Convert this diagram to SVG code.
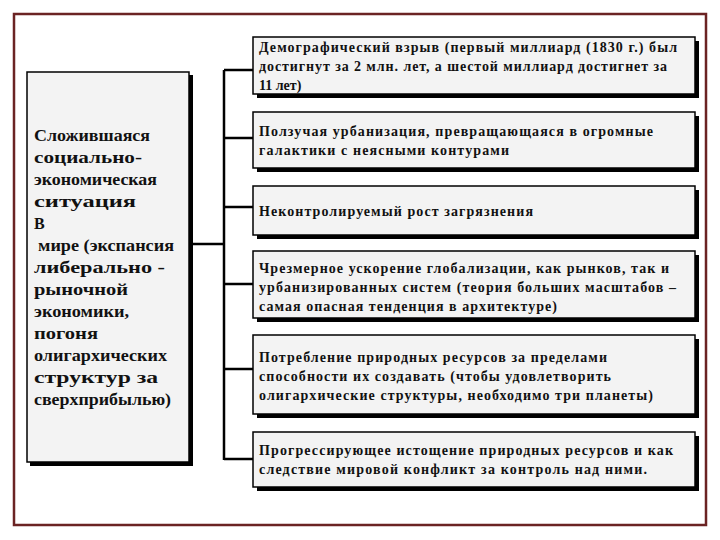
<svg xmlns="http://www.w3.org/2000/svg" width="720" height="540" viewBox="0 0 720 540">
<style>
.box{fill:#f3f3f3;stroke:#000;stroke-width:1.5}
.sh{fill:#000}
.t{font-family:"Liberation Serif","Times New Roman",serif;font-weight:bold;font-size:14px;fill:#111}
.l{font-size:16px}
.c{stroke:#000;stroke-width:2.5;fill:none}
</style>
<rect x="0" y="0" width="720" height="540" fill="#fff"/>
<rect x="14" y="14" width="692" height="511" fill="#fff" stroke="#6b2323" stroke-width="2.5"/>
<g id="connectors">
<path class="c" d="M224 70V460M224 70H253M224 138H253M224 207H253M224 284H253M224 369H253M224 459H253M190 244H224"/>
</g>
<g id="left">
<rect class="sh" x="30" y="75" width="163" height="391"/>
<rect class="box" x="27" y="72" width="162" height="390"/>
<text class="t l"><tspan x="34" y="141" textLength="116" lengthAdjust="spacingAndGlyphs">Сложившаяся</tspan><tspan x="34" y="163" textLength="108" lengthAdjust="spacingAndGlyphs">социально-</tspan><tspan x="34" y="185" textLength="123" lengthAdjust="spacingAndGlyphs">экономическая</tspan><tspan x="34" y="207" textLength="102" lengthAdjust="spacingAndGlyphs">ситуация</tspan><tspan x="34" y="229">В</tspan><tspan x="38" y="251" textLength="136" lengthAdjust="spacingAndGlyphs">мире (экспансия</tspan><tspan x="34" y="273" textLength="131" lengthAdjust="spacingAndGlyphs">либерально -</tspan><tspan x="34" y="295" textLength="94" lengthAdjust="spacingAndGlyphs">рыночной</tspan><tspan x="34" y="317" textLength="95" lengthAdjust="spacingAndGlyphs">экономики,</tspan><tspan x="34" y="339" textLength="64" lengthAdjust="spacingAndGlyphs">погоня</tspan><tspan x="34" y="361" textLength="133" lengthAdjust="spacingAndGlyphs">олигархических</tspan><tspan x="34" y="383" textLength="124" lengthAdjust="spacingAndGlyphs">структур  за</tspan><tspan x="34" y="405" textLength="137" lengthAdjust="spacingAndGlyphs">сверхприбылью)</tspan></text>
</g>
<g id="n1">
<rect class="sh" x="257" y="41" width="442" height="57"/>
<rect class="box" x="253" y="37" width="442" height="57"/>
<text class="t"><tspan x="259" y="52" textLength="418">Демографический взрыв (первый миллиард (1830 г.) был</tspan><tspan x="259" y="71" textLength="408">достигнут за 2 млн. лет, а шестой миллиард достигнет за</tspan><tspan x="259" y="90">11 лет)</tspan></text>
</g>
<g id="n2">
<rect class="sh" x="257" y="116" width="442" height="56"/>
<rect class="box" x="253" y="112" width="442" height="56"/>
<text class="t"><tspan x="259" y="136" textLength="394">Ползучая урбанизация, превращающаяся в огромные</tspan><tspan x="259" y="155" textLength="250">галактики с неясными контурами</tspan></text>
</g>
<g id="n3">
<rect class="sh" x="257" y="190" width="442" height="49"/>
<rect class="box" x="253" y="186" width="442" height="49"/>
<text class="t"><tspan x="259" y="216" textLength="274">Неконтролируемый рост загрязнения</tspan></text>
</g>
<g id="n4">
<rect class="sh" x="257" y="255" width="442" height="67"/>
<rect class="box" x="253" y="251" width="442" height="67"/>
<text class="t"><tspan x="259" y="273" textLength="410">Чрезмерное ускорение глобализации, как рынков, так и</tspan><tspan x="259" y="292" textLength="417">урбанизированных систем (теория больших масштабов –</tspan><tspan x="259" y="311" textLength="298">самая опасная тенденция в архитектуре)</tspan></text>
</g>
<g id="n5">
<rect class="sh" x="257" y="339" width="442" height="79"/>
<rect class="box" x="253" y="335" width="442" height="79"/>
<text class="t"><tspan x="259" y="362" textLength="348">Потребление природных ресурсов за пределами</tspan><tspan x="259" y="381" textLength="352">способности их создавать (чтобы удовлетворить</tspan><tspan x="259" y="400" textLength="394">олигархические структуры, необходимо три планеты)</tspan></text>
</g>
<g id="n6">
<rect class="sh" x="257" y="436" width="442" height="55"/>
<rect class="box" x="253" y="432" width="442" height="55"/>
<text class="t"><tspan x="259" y="455" textLength="414">Прогрессирующее истощение природных ресурсов и как</tspan><tspan x="259" y="474" textLength="388">следствие мировой конфликт за контроль над ними.</tspan></text>
</g>
</svg>
